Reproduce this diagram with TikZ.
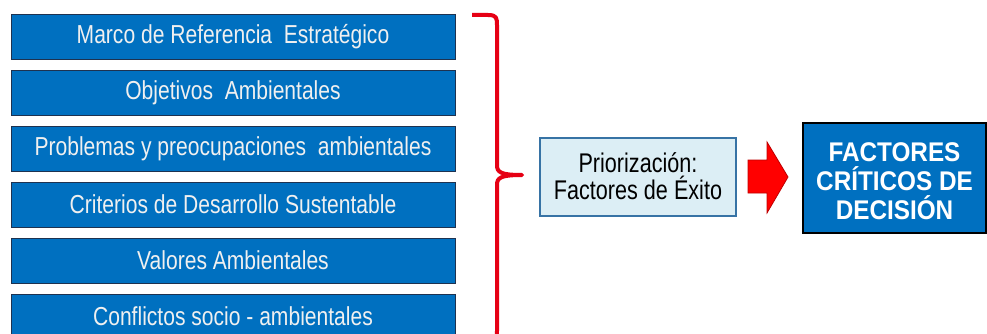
\documentclass[tikz,border=0pt]{standalone}
\usepackage{fontspec}
\setmainfont{Liberation Sans}
\newfontfamily\narrowA[FakeStretch=0.81]{Liberation Sans}
\newfontfamily\narrowM[FakeStretch=0.80]{Liberation Sans}
\newfontfamily\narrowB[FakeStretch=0.90]{Liberation Sans}
\definecolor{boxblue}{RGB}{0,112,192}
\definecolor{boxedge}{RGB}{30,50,80}
\definecolor{lightfill}{RGB}{220,238,245}
\definecolor{lightedge}{RGB}{55,115,165}
\definecolor{bracered}{RGB}{230,0,20}
\definecolor{arrowedge}{RGB}{190,0,0}
\begin{document}
\begin{tikzpicture}[x=1pt,y=-1pt,
  leftbox/.style={draw=boxedge,line width=0.9pt,fill=boxblue,text=white!94!black,
    minimum width=444pt,minimum height=45pt,inner sep=0pt,font=\narrowA\fontsize{26}{30}\selectfont},
  midbox/.style={draw=lightedge,line width=2pt,fill=lightfill,text=black,
    minimum width=196pt,minimum height=78pt,inner sep=0pt,align=center,
    font=\narrowM\fontsize{27}{27}\selectfont},
  resultbox/.style={draw=black,line width=2.5pt,fill=boxblue,
    minimum width=183pt,minimum height=110pt,inner sep=0pt},
  resulttext/.style={text=white,align=center,inner sep=0pt,
    font=\narrowB\fontsize{27}{29}\selectfont\bfseries}]
\useasboundingbox (0,0) rectangle (987,334);
\clip (0,0) rectangle (987,334);
\fill[white] (0,0) rectangle (987,334);
\node[leftbox] (b1) at (233,36.5) {Marco de Referencia\ \ Estratégico};
\node[leftbox] (b2) at (233,92.5) {Objetivos\ \ Ambientales};
\node[leftbox] (b3) at (233,148.5) {Problemas y preocupaciones\ \ ambientales};
\node[leftbox] (b4) at (233,204.5) {Criterios de Desarrollo Sustentable};
\node[leftbox] (b5) at (233,260.5) {Valores Ambientales};
\node[leftbox] (b6) at (233,316.5) {Conflictos\ socio\ -\ ambientales};
% brace
\coordinate (btop) at (472,15);
\coordinate (btip) at (522,175);
\coordinate (bbot) at (472,340);
\draw[bracered,line width=4pt,line join=round]
  (btop) -- (488,15) .. controls (497,15) and (497,18) .. (497,26)
  -- (497,165) .. controls (497,172) and (500,175) .. (btip)
  .. controls (500,175) and (497,178) .. (497,185)
  -- (497,331) .. controls (497,338) and (495,340) .. (488,340) -- (bbot);
\node[midbox] (prio) at (638,176.5) {Priorización:\\Factores de Éxito};
\node[resultbox] (fcd) at (894.5,178) {};
\node[resulttext] (fcdtext) at ([yshift=-3pt]fcd.center) {FACTORES\\CRÍTICOS DE\\DECISIÓN};
% arrow
\coordinate (arrtip) at (788,177);
\draw[arrowedge,line width=0.8pt,fill=red,line join=miter]
  (748,160) -- (767,160) -- (767,142) -- (arrtip) -- (767,213) -- (767,193) -- (748,193) -- cycle;
\end{tikzpicture}
\end{document}
